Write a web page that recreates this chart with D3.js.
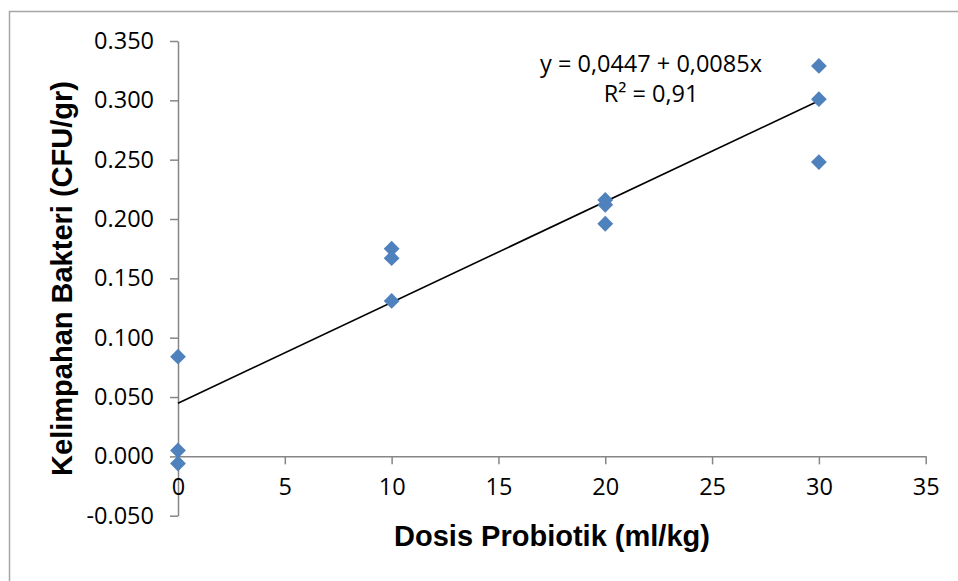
<!DOCTYPE html>
<html>
<head>
<meta charset="utf-8">
<script src="https://cdn.jsdelivr.net/npm/d3@7"></script>
<style>
  body { margin: 0; background: #fff; }
  svg { display: block; }
</style>
</head>
<body>
<svg width="958" height="581"></svg>
<script>
// Data
var dose = [0, 0, 0, 10, 10, 10, 20, 20, 20, 30, 30, 30];
var bacteria = [0.084, 0.005, -0.006, 0.175, 0.167, 0.131, 0.216, 0.212, 0.196, 0.329, 0.301, 0.248];
var xTicks = [0, 5, 10, 15, 20, 25, 30, 35];
var yTicks = [-0.05, 0, 0.05, 0.1, 0.15, 0.2, 0.25, 0.3, 0.35];
var intercept = 0.0447, slope = 0.0085;
var eqLines = ["y = 0,0447 + 0,0085x", "R² = 0,91"];

var svg = d3.select("svg"),
    width = +svg.attr("width"),
    height = +svg.attr("height");

var axisColor = "#868686";
var tickFont = "'Open Sans', sans-serif";

// chart frame (only top and left edges visible)
svg.append("path")
    .attr("d", "M9.5," + height + "V11.5H" + width)
    .attr("fill", "none")
    .attr("stroke", "#a6a6a6")
    .attr("stroke-width", 1.5);

var x = d3.scaleLinear().domain([0, 35]).range([178, 925.7]);
var y = d3.scaleLinear().domain([-0.05, 0.35]).range([515.7, 41]);

// y axis
var gy = svg.append("g")
    .attr("transform", "translate(" + x(0) + ",0)")
    .call(d3.axisLeft(y).tickValues(yTicks).tickSize(8).tickPadding(16)
        .tickFormat(d3.format(".3f")).tickSizeOuter(0));
gy.select(".domain").attr("stroke", axisColor).attr("stroke-width", 1.5);
gy.selectAll(".tick line").attr("stroke", axisColor).attr("stroke-width", 1.5);
gy.selectAll(".tick text")
    .attr("font-family", tickFont)
    .attr("font-size", 23.5)
    .attr("fill", "#000")
    .text(function(d) { return d3.format(".3f")(d).replace("−", "-"); });

// x axis at y = 0
var gx = svg.append("g")
    .attr("transform", "translate(0," + y(0) + ")")
    .call(d3.axisBottom(x).tickValues(xTicks).tickSize(8).tickPadding(14).tickSizeOuter(0));
gx.select(".domain").attr("stroke", axisColor).attr("stroke-width", 1.5);
gx.selectAll(".tick line").attr("stroke", axisColor).attr("stroke-width", 1.5);
gx.selectAll(".tick text")
    .attr("font-family", tickFont)
    .attr("font-size", 23.5)
    .attr("fill", "#000");

// trend line
svg.append("line")
    .attr("x1", x(0))
    .attr("y1", y(intercept))
    .attr("x2", x(30))
    .attr("y2", y(intercept + slope * 30))
    .attr("stroke", "#000")
    .attr("stroke-width", 1.6);

// diamonds
var diamond = d3.symbol().type(d3.symbolSquare).size(125);
svg.append("g").selectAll("path")
    .data(dose.map(function(d, i) { return [d, bacteria[i]]; }))
  .enter().append("path")
    .attr("d", diamond)
    .attr("transform", function(d) {
        return "translate(" + x(d[0]) + "," + y(d[1]) + ") rotate(45)";
    })
    .attr("fill", "#4f81bd");

// equation
svg.append("g").selectAll("text")
    .data(eqLines)
  .enter().append("text")
    .attr("x", 651)
    .attr("y", function(d, i) { return 72 + i * 30; })
    .attr("text-anchor", "middle")
    .attr("font-family", tickFont)
    .attr("font-size", 23.5)
    .attr("fill", "#000")
    .text(function(d) { return d; });

// axis titles
svg.append("text")
    .attr("x", 552)
    .attr("y", 546)
    .attr("text-anchor", "middle")
    .attr("font-family", "'Liberation Sans', Arial, sans-serif")
    .attr("font-weight", "bold")
    .attr("font-size", 29)
    .text("Dosis Probiotik (ml/kg)");

svg.append("text")
    .attr("transform", "translate(72,278.5) rotate(-90)")
    .attr("text-anchor", "middle")
    .attr("font-family", "'Liberation Sans', Arial, sans-serif")
    .attr("font-weight", "bold")
    .attr("font-size", 29)
    .text("Kelimpahan Bakteri (CFU/gr)");
</script>
</body>
</html>
